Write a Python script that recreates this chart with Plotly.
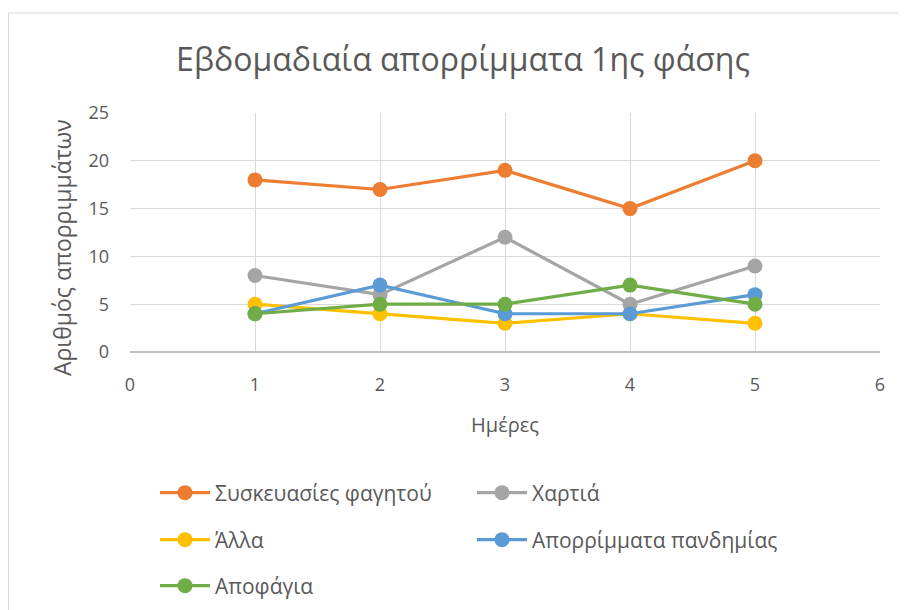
import plotly.graph_objects as go

days = [1, 2, 3, 4, 5]
series_names = ["Συσκευασίες φαγητού", "Χαρτιά", "Άλλα", "Απορρίμματα πανδημίας", "Αποφάγια"]
food_packaging = [18, 17, 19, 15, 20]
paper = [8, 6, 12, 5, 9]
other = [5, 4, 3, 4, 3]
pandemic = [4, 7, 4, 4, 6]
leftovers = [4, 5, 5, 7, 5]
colors = ["#ED7D31", "#A5A5A5", "#FFC000", "#5B9BD5", "#70AD47"]
legend_ids = ["legend", "legend", "legend2", "legend2", "legend3"]

values = [food_packaging, paper, other, pandemic, leftovers]
FONT = "Open Sans"
TXT = "#595959"

fig = go.Figure()
for name, vals, col, lg in zip(series_names, values, colors, legend_ids):
    fig.add_trace(go.Scatter(
        x=days, y=vals, name=name, mode="lines+markers",
        line=dict(color=col, width=3.2),
        marker=dict(color=col, size=15),
        legend=lg,
    ))

OFF = 8  # page body margin
W, H = 906, 610
L = 130 - OFF
R = W - (880 - OFF)
T = 113 - OFF
B = H - (352 - OFF)
pw, ph = W - L - R, H - T - B

def px_x(p):
    return (p - OFF - L) / pw

def px_y(p):
    return (H - B - (p - OFF)) / ph

legend_common = dict(
    orientation="h", xanchor="left", yanchor="middle",
    font=dict(family=FONT, size=21, color=TXT),
    itemwidth=50,
    entrywidth=252, entrywidthmode="pixels",
    bgcolor="rgba(0,0,0,0)",
)

fig.update_layout(
    width=W, height=H,
    margin=dict(l=L, r=R, t=T, b=B),
    paper_bgcolor="white", plot_bgcolor="white",
    font=dict(family=FONT, color=TXT),
    title=dict(text="Εβδομαδιαία απορρίμματα 1ης φάσης",
               font=dict(family=FONT, size=32, color=TXT),
               x=px_x(463) * pw / W + L / W, xanchor="center",
               y=1 - (60 - OFF) / H, yanchor="middle"),
    xaxis=dict(range=[0, 6], dtick=1, tick0=0, showgrid=True, gridcolor="#D9D9D9", gridwidth=1.3,
               zeroline=False, showline=False, ticks="",
               tickfont=dict(family=FONT, size=18, color=TXT), ticklabelstandoff=20,
               title=dict(text="Ημέρες", font=dict(family=FONT, size=20, color=TXT), standoff=22)),
    yaxis=dict(range=[0, 25], dtick=5, showgrid=True, gridcolor="#D9D9D9", gridwidth=1.3,
               zeroline=True, zerolinecolor="#BFBFBF", zerolinewidth=1.5, showline=False, ticks="",
               tickfont=dict(family=FONT, size=18, color=TXT), ticklabelstandoff=20),
    annotations=[dict(text="Αριθμός απορριμμάτων", textangle=-90, showarrow=False,
                      xref="paper", yref="paper", x=px_x(62), y=px_y(248),
                      xanchor="center", yanchor="middle",
                      font=dict(family=FONT, size=23, color=TXT))],
    legend=dict(x=px_x(155), y=px_y(493), **legend_common),
    legend2=dict(x=px_x(155), y=px_y(540), **legend_common),
    legend3=dict(x=px_x(155), y=px_y(586), **legend_common),
    shapes=[dict(type="rect", xref="paper", yref="paper",
                 x0=px_x(OFF + 0.5), x1=px_x(W + OFF - 0.5), y0=px_y(H + 40), y1=px_y(13),
                 line=dict(color="#D9D9D9", width=1), fillcolor="rgba(0,0,0,0)", layer="below")],
    showlegend=True,
)

fig.write_html("out.html")
